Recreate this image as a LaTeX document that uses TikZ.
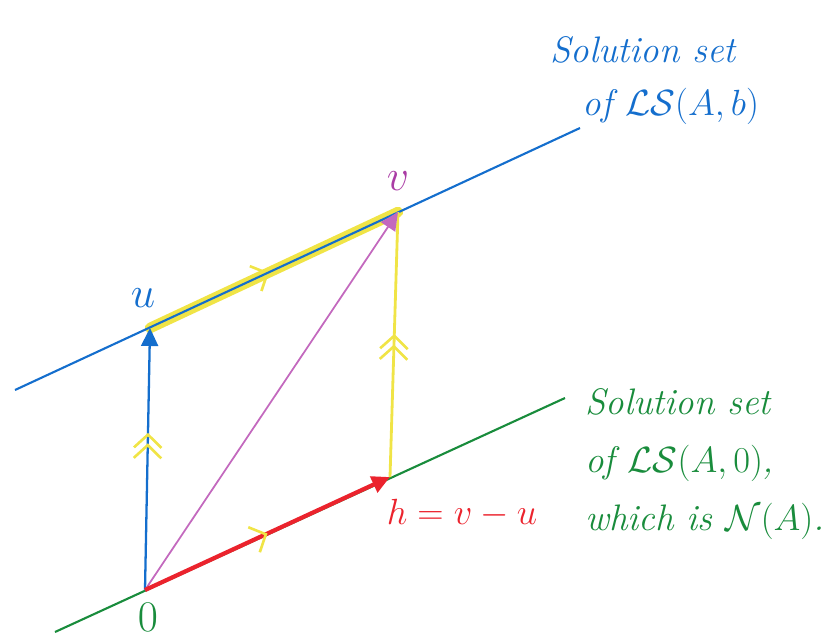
\documentclass[tikz,border=0pt]{standalone}
\usepackage{amssymb}
\usepackage{amsmath}
\usetikzlibrary{arrows.meta}
\usetikzlibrary{decorations.markings}
\usetikzlibrary{calc}

\definecolor{penblue}{RGB}{20,110,205}
\definecolor{pengreen}{RGB}{25,140,60}
\definecolor{penred}{RGB}{235,35,45}
\definecolor{penpurple}{RGB}{195,105,190}
\definecolor{penviolet}{RGB}{170,60,165}
\definecolor{penyellow}{RGB}{240,228,70}

\begin{document}
\begin{tikzpicture}
\tikzstyle{sb} = [color = penblue]
\tikzstyle{sg} = [color = pengreen]
\tikzstyle{sr} = [color = penred]
\tikzstyle{sv} = [color = penviolet]
\tikzstyle{hand} = [font=\fontsize{21}{30}\selectfont\itshape, inner sep=0pt]
\tikzstyle{pt} = [font=\fontsize{24}{28}\selectfont, inner sep=0pt]
\tikzstyle{vec} = [line width=1.3pt, -{Triangle[length=3.6mm,width=3.4mm]}]
\tikzstyle{hilite} = [color = penyellow, line width=6pt, line cap=round]
\tikzstyle{chev} = [postaction={decorate}, decoration={markings,
  mark=at position #1 with {\arrow[penyellow, line width=1.5pt]{Straight Barb[length=2.6mm,width=5.5mm]}}}]
\tikzstyle{chevtwo} = [postaction={decorate}, decoration={markings,
  mark=at position #1 with {\arrow[penyellow, line width=1.5pt]{Straight Barb[length=2.6mm,width=5.5mm]}},
  mark=at position #1+0.04 with {\arrow[penyellow, line width=1.5pt]{Straight Barb[length=2.6mm,width=5.5mm]}}}]

\begin{scope}[x=0.02cm,y=-0.02cm]
\useasboundingbox (0,0) rectangle (837,643);

\coordinate (o)  at (145,590);
\coordinate (u)  at (150,328);
\coordinate (v)  at (398,212);
\coordinate (h)  at (390,477);
\coordinate (b0) at (15,390);
\coordinate (b1) at (580,128);
\coordinate (g0) at (55,632);
\coordinate (g1) at (565,398);

% the two solution sets
\draw[hilite, chev=0.48] (u) -- (v);
\draw[sb, line width=1.2pt] (b0) -- (b1);
\draw[sg, line width=1.2pt] (g0) -- (g1);

% vectors
\draw[color=penyellow, line width=1.6pt, chevtwo=0.5] (h) -- (v);
\draw[vec, sb] (o) -- (u);
\path[chevtwo=0.56] (o) -- (u);
\draw[vec, color=penpurple, line width=1pt] (o) -- (v);
\draw[vec, sr, line width=2.4pt, chev=0.5] (o) -- (h);

% labels
\node[pt, sb] (lu) at (143,298) {$u$};
\node[pt, sv] (lv) at (398,181) {$v$};
\node[hand, sr] (lh) at (462,513) {$h = v - u$};
\node[pt, sg] (lo) at (148,617) {$0$};

\node[hand, sb, align=left, anchor=north west, font=\fontsize{21}{30}\selectfont\itshape] (lsb) at (550,36)
  {Solution set\\\hspace*{0.65cm}of $\mathcal{LS}(A,b)$};
\node[hand, sg, align=left, anchor=north west, font=\fontsize{21}{33}\selectfont\itshape] (lsg) at (585,388)
  {Solution set\\of $\mathcal{LS}(A,0)$,\\which is $\mathcal{N}(A)$.};

\end{scope}
\end{tikzpicture}
\end{document}
